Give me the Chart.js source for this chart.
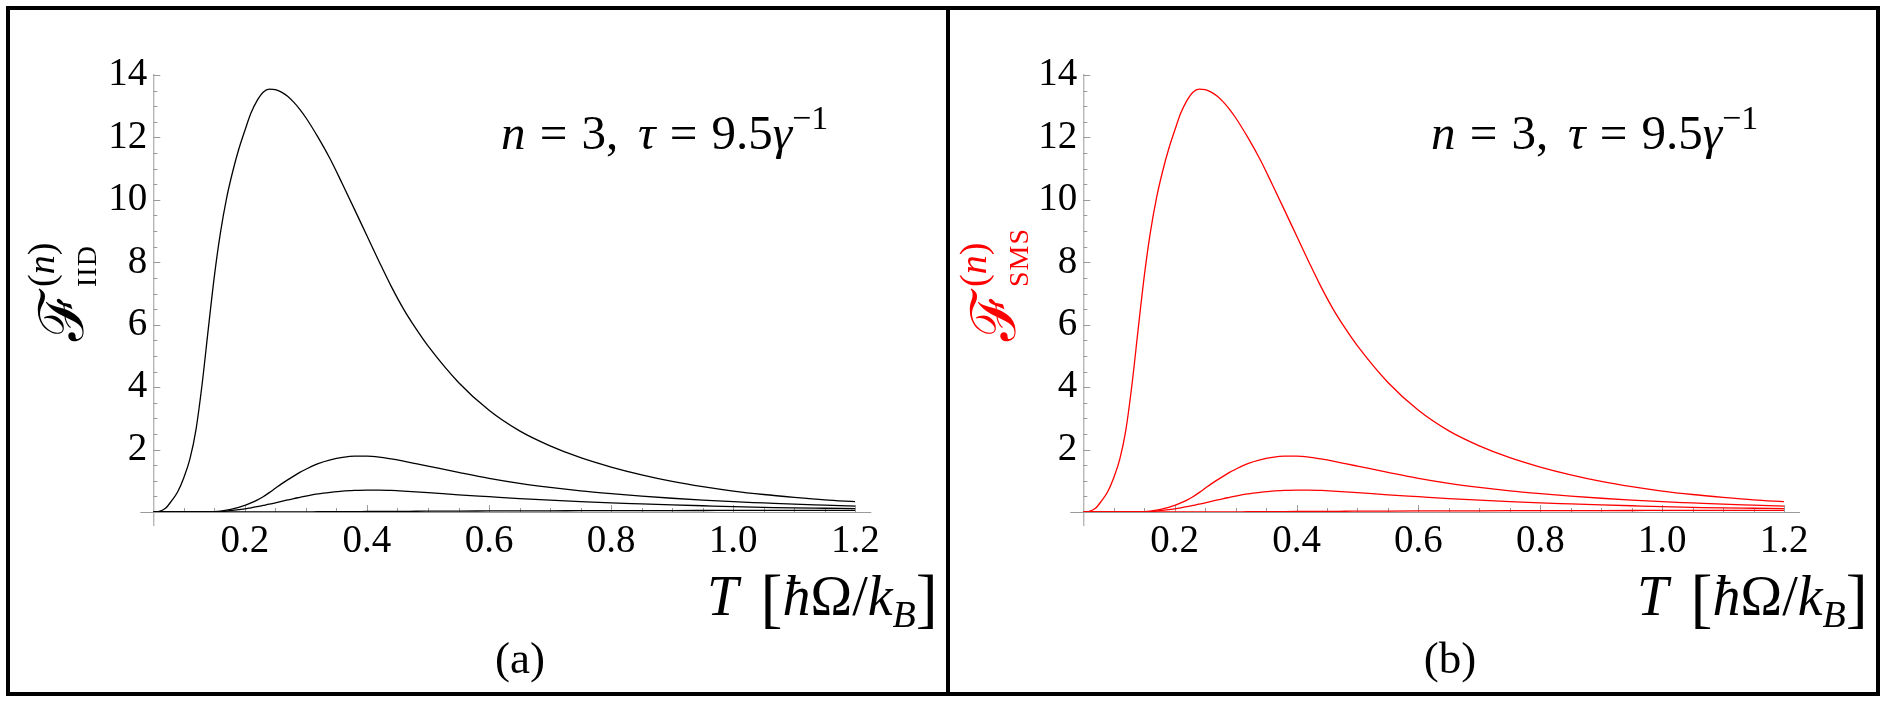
<!DOCTYPE html>
<html><head><meta charset="utf-8">
<script src="https://cdn.jsdelivr.net/npm/chart.js@4.4.0/dist/chart.umd.min.js"></script>
<style>
html,body{margin:0;padding:0;background:#fff;}
#wrap{position:relative;width:1886px;height:705px;overflow:hidden;background:#fff;}
.frame{position:absolute;left:6px;top:6px;width:1866px;height:682px;border:4px solid #000;}
.divider{position:absolute;left:946px;top:6px;width:4px;height:690px;background:#000;}
canvas{position:absolute;top:0;}
.math{position:absolute;font-family:"Liberation Serif","DejaVu Serif",serif;white-space:nowrap;color:#000;line-height:1;}
.ytitle{width:120px;height:70px;transform:rotate(-90deg);transform-origin:50% 50%;}
.ytitle span{position:absolute;line-height:1;}
.cal{font-family:"DejaVu Serif",serif;font-style:normal;}
.eq{margin:0 0.29em;}
</style></head>
<body><div id="wrap">
<canvas id="cA" width="946" height="705" style="left:0;width:946px;height:705px"></canvas>
<canvas id="cB" width="936" height="705" style="left:950px;width:936px;height:705px"></canvas>
<div class="frame"></div><div class="divider"></div>

<div class="math ytitle" style="left:1px;top:250px;">
  <span class="cal" style="left:4px;top:5px;font-size:62px;">ℱ</span>
  <span style="left:58px;top:-4px;font-size:38px;">(<i>n</i>)</span>
  <span style="left:58px;top:47px;font-size:28px;letter-spacing:1px;">IID</span>
</div>
<div class="math ytitle" style="left:933px;top:250px;color:#ff0000;">
  <span class="cal" style="left:4px;top:5px;font-size:62px;">ℱ</span>
  <span style="left:58px;top:-4px;font-size:38px;">(<i>n</i>)</span>
  <span style="left:58px;top:47px;font-size:28px;letter-spacing:1px;">SMS</span>
</div>

<div class="math" style="left:501px;top:108px;font-size:49px;"><i>n</i><span class="eq">=</span>3,&#8201;&#8201;<i>τ</i><span class="eq">=</span>9.5<i>γ</i><span style="position:relative;top:-0.6em;font-size:34px;">−1</span></div>
<div class="math" style="left:1431px;top:108px;font-size:49px;"><i>n</i><span class="eq">=</span>3,&#8201;&#8201;<i>τ</i><span class="eq">=</span>9.5<i>γ</i><span style="position:relative;top:-0.6em;font-size:34px;">−1</span></div>

<div class="math" style="left:707px;top:560px;font-size:56px;"><i>T</i>&#8201;&#8201;<span style="font-size:66px;position:relative;top:5px;">[</span><i>ħ</i>Ω/<i>k</i><span style="position:relative;top:0.32em;font-size:38px;"><i>B</i></span><span style="font-size:66px;position:relative;top:5px;">]</span></div>
<div class="math" style="left:1637px;top:560px;font-size:56px;"><i>T</i>&#8201;&#8201;<span style="font-size:66px;position:relative;top:5px;">[</span><i>ħ</i>Ω/<i>k</i><span style="position:relative;top:0.32em;font-size:38px;"><i>B</i></span><span style="font-size:66px;position:relative;top:5px;">]</span></div>

<div class="math" style="left:470px;top:636px;width:100px;text-align:center;font-size:45px;">(a)</div>
<div class="math" style="left:1400px;top:636px;width:100px;text-align:center;font-size:45px;">(b)</div>
</div>
<script>
// ---- data ----
const tValues = [0.05,0.06,0.07,0.08,0.09,0.10,0.11,0.12,0.13,0.14,0.15,0.16,0.17,0.18,0.19,0.20,0.21,0.22,0.23,0.24,0.25,0.26,0.27,0.28,0.29,0.30,
  0.32,0.34,0.36,0.38,0.40,0.42,0.44,0.46,0.48,0.50,
  0.55,0.60,0.65,0.70,0.75,0.80,0.85,0.90,0.95,1.00,1.05,1.10,1.15,1.20];
const curveLarge = [0,0.02,0.12,0.36,0.65,1.1,1.7,2.65,4.1,5.85,7.55,8.95,10.05,10.9,11.62,12.22,12.78,13.18,13.45,13.55,13.53,13.45,13.32,13.13,12.9,12.63,
  12.0,11.3,10.5,9.68,8.85,8.02,7.22,6.5,5.88,5.32,
  4.15,3.26,2.6,2.12,1.74,1.44,1.19,0.98,0.81,0.67,0.56,0.47,0.39,0.33];
const curveMid = [0,0,0,0,0,0,0,0,0,0,0.01,0.03,0.06,0.10,0.15,0.21,0.29,0.38,0.49,0.62,0.76,0.90,1.03,1.15,1.27,1.37,
  1.55,1.67,1.75,1.79,1.79,1.76,1.70,1.63,1.55,1.47,
  1.27,1.08,0.92,0.79,0.68,0.59,0.51,0.44,0.38,0.33,0.29,0.25,0.22,0.19];
const curveLow = [0,0,0,0,0,0,0,0,0,0,0.005,0.015,0.03,0.05,0.075,0.10,0.135,0.17,0.21,0.25,0.295,0.34,0.385,0.43,0.47,0.51,
  0.58,0.63,0.67,0.69,0.70,0.70,0.69,0.67,0.645,0.62,
  0.55,0.49,0.43,0.38,0.33,0.29,0.26,0.23,0.20,0.17,0.15,0.13,0.12,0.11];
const curveTiny = [0,0,0,0,0,0,0,0,0,0,0,0,0,0,0,0,0,0,0,0,0.001,0.002,0.003,0.004,0.005,0.006,
  0.008,0.01,0.012,0.014,0.016,0.018,0.02,0.022,0.024,0.026,
  0.03,0.033,0.036,0.039,0.041,0.043,0.045,0.047,0.048,0.05,0.051,0.052,0.053,0.054];
const xTickValues = [0.2,0.4,0.6,0.8,1.0,1.2];
const yTickValues = [2,4,6,8,10,12,14];
const xRange = [0.05, 1.2];
const yRange = [0, 14];

const FONT = {family:'"Liberation Serif","DejaVu Serif",serif', size:39};

const axesPlugin = {
  id:'mmaAxes',
  beforeDatasetsDraw(chart){
    const ctx = chart.ctx, xs = chart.scales.x, ys = chart.scales.y;
    const x0 = xs.getPixelForValue(xRange[0]), y0 = ys.getPixelForValue(0);
    ctx.save();
    ctx.strokeStyle = '#9a9a9a'; ctx.lineWidth = 1;
    ctx.beginPath();
    ctx.moveTo(x0-13, y0+0.5); ctx.lineTo(xs.getPixelForValue(xRange[1])+16, y0+0.5);
    ctx.moveTo(x0+0.5, ys.getPixelForValue(yRange[1])-1); ctx.lineTo(x0+0.5, y0+14);
    for (let k=2; k<=24; k++){
      const v = k*0.05; if (v > xRange[1]+1e-9) break;
      const major = xTickValues.some(t=>Math.abs(t-v)<1e-9);
      const px = Math.round(xs.getPixelForValue(v))+0.5;
      ctx.moveTo(px, y0); ctx.lineTo(px, y0-(major?7:4));
    }
    for (let k=1; k<=28; k++){
      const v = k*0.5;
      const major = yTickValues.includes(v);
      const py = Math.round(ys.getPixelForValue(v))+0.5;
      ctx.moveTo(x0, py); ctx.lineTo(x0+(major?7:4), py);
    }
    ctx.stroke();
    ctx.restore();
  }
};

function makeChart(id, color, areaLeft, areaRight, canvasW){
  const YW = 100, XH = 60;
  const mk = arr => tValues.map((t,i)=>({x:t, y:arr[i]}));
  const ds = (arr)=>({data:mk(arr), borderColor:color, borderWidth:1.3, pointRadius:0, fill:false, cubicInterpolationMode:'monotone'});
  return new Chart(document.getElementById(id), {
    type:'line',
    data:{datasets:[ds(curveTiny), ds(curveLow), ds(curveMid), ds(curveLarge)]},
    options:{
      responsive:false, animation:false, events:[],
      layout:{padding:{left:areaLeft-YW, right:canvasW-areaRight, top:75, bottom:705-512-XH}},
      plugins:{legend:{display:false}, tooltip:{enabled:false}},
      scales:{
        x:{type:'linear', min:xRange[0], max:xRange[1],
           grid:{display:false, drawTicks:false}, border:{display:false},
           afterBuildTicks:s=>{s.ticks = xTickValues.map(v=>({value:v}));},
           afterFit:s=>{s.height = XH;},
           ticks:{font:FONT, color:'#000', padding:6, maxRotation:0, autoSkip:false,
                  callback:v=>Number(v).toFixed(1)}},
        y:{type:'linear', min:yRange[0], max:yRange[1],
           grid:{display:false, drawTicks:false}, border:{display:false},
           afterBuildTicks:s=>{s.ticks = yTickValues.map(v=>({value:v}));},
           afterFit:s=>{s.width = YW;},
           ticks:{font:FONT, color:'#000', padding:6, autoSkip:false, callback:v=>String(v)}}
      }
    },
    plugins:[axesPlugin]
  });
}
makeChart('cA', '#000000', 153.3, 855.3, 946);
makeChart('cB', '#ff0000', 133.3, 834, 936);
</script>
</body></html>
